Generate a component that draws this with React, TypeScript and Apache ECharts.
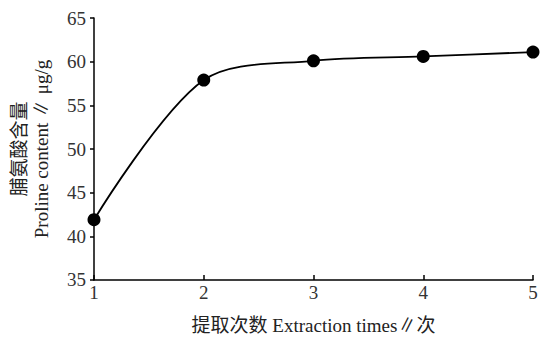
import React, { useEffect, useRef } from "react";
import * as echarts from "echarts";

const extractionTimes = [1, 2, 3, 4, 5];
const prolineContent = [41.9, 57.9, 60.1, 60.6, 61.1];
const xName = "提取次数 Extraction times∥次";
const yNameCn = "脯氨酸含量";
const yNameEn = "Proline content ∥ μg/g";

const FONT = "'Liberation Serif', 'Noto Sans CJK SC', serif";

export default function App() {
  const ref = useRef<HTMLDivElement>(null);
  useEffect(() => {
    if (!ref.current) return;
    const chart = echarts.init(ref.current, null, { renderer: "svg" });
    chart.setOption({
      animation: false,
      backgroundColor: "#ffffff",
      grid: { left: 91, right: 9, top: 18, bottom: 57 },
      xAxis: {
        type: "value",
        min: 1,
        max: 5,
        interval: 1,
        name: xName,
        nameLocation: "middle",
        nameGap: 36,
        nameTextStyle: { fontFamily: FONT, fontSize: 19, color: "#222" },
        axisLine: { show: true, lineStyle: { color: "#000", width: 1.5 } },
        axisTick: { show: true, inside: true, length: 5, lineStyle: { color: "#000", width: 1.5 } },
        axisLabel: { fontFamily: FONT, fontSize: 19, color: "#333", margin: 3 },
        splitLine: { show: false },
      },
      yAxis: {
        type: "value",
        min: 35,
        max: 65,
        interval: 5,
        name: yNameCn + "\n" + yNameEn,
        nameLocation: "middle",
        nameRotate: 90,
        nameGap: 42,
        nameTextStyle: { fontFamily: FONT, fontSize: 19, color: "#222", lineHeight: 22 },
        axisLine: { show: true, lineStyle: { color: "#000", width: 1.5 } },
        axisTick: { show: true, inside: false, length: 4, lineStyle: { color: "#000", width: 1.5 } },
        axisLabel: { fontFamily: FONT, fontSize: 19, color: "#333", margin: 8 },
        splitLine: { show: false },
      },
      series: [
        {
          type: "line",
          data: extractionTimes.map((x, i) => [x, prolineContent[i]]),
          smooth: 0.32,
          symbol: "circle",
          symbolSize: 13,
          itemStyle: { color: "#000" },
          lineStyle: { color: "#000", width: 1.8 },
        },
      ],
    });
    return () => chart.dispose();
  }, []);
  return (
    <div
      ref={ref}
      style={{ position: "absolute", left: 0, top: 0, width: 542, height: 340 }}
    />
  );
}
